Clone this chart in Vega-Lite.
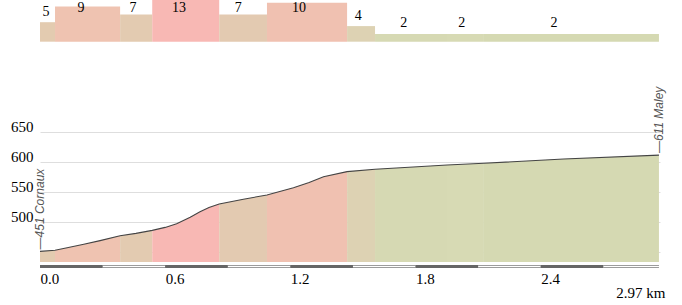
{
  "$schema": "https://vega.github.io/schema/vega-lite/v6.json",
  "width": 620,
  "height": 268,
  "autosize": {"type": "none"},
  "padding": {"left": 40, "top": 0, "right": 22, "bottom": 37},
  "background": "white",
  "config": {
    "view": {"stroke": null},
    "axisX": {
      "grid": false, "ticks": false, "tickSize": 0, "domain": false,
      "labelAlign": "left", "labelBaseline": "top", "labelPadding": 3,
      "labelFont": "Liberation Serif", "labelFontSize": 15, "labelColor": "#000",
      "labelFlush": false, "labelBound": false, "labelOverlap": false,
      "titleFont": "Liberation Serif", "titleFontSize": 15,
      "titleFontWeight": "normal", "titleColor": "#000", "titleAlign": "right",
      "titleBaseline": "alphabetic", "titleAnchor": "end", "titleX": 625, "titleY": 29
    },
    "axisY": {
      "grid": true, "gridColor": "#000", "gridOpacity": 0.13,
      "ticks": false, "tickSize": 0, "domain": false,
      "labelFont": "Liberation Serif", "labelFontSize": 15, "labelColor": "#000",
      "labelBaseline": "alphabetic", "labelAlign": "right", "labelPadding": 7,
      "zindex": 1
    }
  },
  "datasets": {
    "profile": [
      {"d": 0, "e": 451, "seg": 1},
      {"d": 0.072, "e": 453, "seg": 1},
      {"d": 0.072, "e": 453, "seg": 2},
      {"d": 0.13, "e": 457, "seg": 2},
      {"d": 0.21, "e": 463, "seg": 2},
      {"d": 0.288, "e": 469, "seg": 2},
      {"d": 0.384, "e": 477, "seg": 2},
      {"d": 0.384, "e": 477, "seg": 3},
      {"d": 0.46, "e": 481, "seg": 3},
      {"d": 0.538, "e": 486, "seg": 3},
      {"d": 0.538, "e": 486, "seg": 4},
      {"d": 0.6, "e": 491, "seg": 4},
      {"d": 0.655, "e": 497, "seg": 4},
      {"d": 0.72, "e": 508, "seg": 4},
      {"d": 0.767, "e": 517, "seg": 4},
      {"d": 0.81, "e": 524, "seg": 4},
      {"d": 0.859, "e": 530, "seg": 4},
      {"d": 0.859, "e": 530, "seg": 5},
      {"d": 0.975, "e": 538, "seg": 5},
      {"d": 1.088, "e": 545, "seg": 5},
      {"d": 1.088, "e": 545, "seg": 6},
      {"d": 1.215, "e": 557, "seg": 6},
      {"d": 1.29, "e": 566, "seg": 6},
      {"d": 1.359, "e": 575.5, "seg": 6},
      {"d": 1.472, "e": 584, "seg": 6},
      {"d": 1.472, "e": 584, "seg": 7},
      {"d": 1.606, "e": 588, "seg": 7},
      {"d": 1.606, "e": 588, "seg": 8},
      {"d": 1.728, "e": 590.5, "seg": 8},
      {"d": 1.951, "e": 595, "seg": 8},
      {"d": 1.951, "e": 595, "seg": 9},
      {"d": 2.128, "e": 598, "seg": 9},
      {"d": 2.128, "e": 598, "seg": 10},
      {"d": 2.51, "e": 605, "seg": 10},
      {"d": 2.967, "e": 611.5, "seg": 10}
    ],
    "segments": [
      {"seg": 1, "start": 0, "end": 0.072, "grade": 5},
      {"seg": 2, "start": 0.072, "end": 0.384, "grade": 9},
      {"seg": 3, "start": 0.384, "end": 0.538, "grade": 7},
      {"seg": 4, "start": 0.538, "end": 0.859, "grade": 13},
      {"seg": 5, "start": 0.859, "end": 1.088, "grade": 7},
      {"seg": 6, "start": 1.088, "end": 1.472, "grade": 10},
      {"seg": 7, "start": 1.472, "end": 1.606, "grade": 4},
      {"seg": 8, "start": 1.606, "end": 1.951, "grade": 2},
      {"seg": 9, "start": 1.951, "end": 2.128, "grade": 2},
      {"seg": 10, "start": 2.128, "end": 2.967, "grade": 2}
    ],
    "scalebar": [
      {"from": 0, "to": 0.3, "shade": "dark"},
      {"from": 0.3, "to": 0.6, "shade": "light"},
      {"from": 0.6, "to": 0.9, "shade": "dark"},
      {"from": 0.9, "to": 1.2, "shade": "light"},
      {"from": 1.2, "to": 1.5, "shade": "dark"},
      {"from": 1.5, "to": 1.8, "shade": "light"},
      {"from": 1.8, "to": 2.1, "shade": "dark"},
      {"from": 2.1, "to": 2.4, "shade": "light"},
      {"from": 2.4, "to": 2.7, "shade": "dark"},
      {"from": 2.7, "to": 2.967, "shade": "light"}
    ],
    "places": [
      {"d": 0, "e": 451, "name": "—451 Cornaux"},
      {"d": 2.967, "e": 611.5, "name": "—611 Maley"}
    ]
  },
  "layer": [
    {
      "layer": [
        {
          "data": {"name": "profile"},
          "mark": {"type": "area", "interpolate": "linear"},
          "encoding": {
            "x": {
              "field": "d", "type": "quantitative",
              "scale": {"domain": [0, 2.972], "nice": false, "zero": false},
              "axis": {"values": [0, 0.6, 1.2, 1.8, 2.4], "format": ".1f"},
              "title": "2.97 km"
            },
            "y": {
              "field": "e", "type": "quantitative", "stack": null,
              "scale": {"domain": [423.333, 870], "nice": false, "zero": false},
              "axis": {"values": [450, 500, 550, 600, 650], "labelExpr": "datum.value >= 500 ? datum.label : ''"},
              "title": null
            },
            "y2": {"datum": 433.333},
            "color": {
              "field": "seg", "type": "nominal",
              "scale": {
                "domain": [1, 2, 3, 4, 5, 6, 7, 8, 9, 10],
                "range": ["#e3cbb0", "#efc3b1", "#e3cbb1", "#f8b8b4", "#e3cab1", "#f0c1b1", "#ddd2b3", "#d6d9b3", "#d7dab4", "#d5d9b2"]
              },
              "legend": null
            }
          }
        },
        {
          "data": {"name": "profile"},
          "mark": {"type": "line", "color": "#444444", "strokeWidth": 1.1},
          "encoding": {
            "x": {"field": "d", "type": "quantitative", "axis": {"values": [0, 0.6, 1.2, 1.8, 2.4], "format": ".1f"}, "title": "2.97 km"},
            "y": {"field": "e", "type": "quantitative", "axis": {"values": [450, 500, 550, 600, 650], "labelExpr": "datum.value >= 500 ? datum.label : ''"}, "title": null}
          }
        },
        {
          "data": {"name": "scalebar"},
          "mark": {"type": "rect", "color": "#9c9c9c"},
          "encoding": {
            "x": {"field": "from", "type": "quantitative", "axis": {"values": [0, 0.6, 1.2, 1.8, 2.4], "format": ".1f"}, "title": "2.97 km"},
            "x2": {"field": "to"},
            "y": {"datum": 428.333, "type": "quantitative", "axis": {"values": [450, 500, 550, 600, 650], "labelExpr": "datum.value >= 500 ? datum.label : ''"}, "title": null},
            "y2": {"datum": 423.333}
          }
        },
        {
          "data": {"name": "scalebar"},
          "transform": [{"filter": "datum.shade == 'light'"}],
          "mark": {"type": "rect", "color": "#ffffff"},
          "encoding": {
            "x": {"field": "from", "type": "quantitative", "axis": {"values": [0, 0.6, 1.2, 1.8, 2.4], "format": ".1f"}, "title": "2.97 km"},
            "x2": {"field": "to"},
            "y": {"datum": 426.7, "type": "quantitative", "axis": {"values": [450, 500, 550, 600, 650], "labelExpr": "datum.value >= 500 ? datum.label : ''"}, "title": null},
            "y2": {"datum": 424.8}
          }
        },
        {
          "data": {"name": "scalebar"},
          "transform": [{"filter": "datum.shade == 'dark'"}],
          "mark": {"type": "rect", "color": "#666666"},
          "encoding": {
            "x": {"field": "from", "type": "quantitative", "axis": {"values": [0, 0.6, 1.2, 1.8, 2.4], "format": ".1f"}, "title": "2.97 km"},
            "x2": {"field": "to"},
            "y": {"datum": 428.333, "type": "quantitative", "axis": {"values": [450, 500, 550, 600, 650], "labelExpr": "datum.value >= 500 ? datum.label : ''"}, "title": null},
            "y2": {"datum": 423.333}
          }
        },
        {
          "data": {"name": "places"},
          "mark": {"type": "text", "angle": 270, "align": "left", "baseline": "middle", "dx": 2, "font": "Liberation Sans", "fontStyle": "italic", "fontSize": 12, "color": "#555555"},
          "encoding": {
            "x": {"field": "d", "type": "quantitative", "axis": {"values": [0, 0.6, 1.2, 1.8, 2.4], "format": ".1f"}, "title": "2.97 km"},
            "y": {"field": "e", "type": "quantitative", "axis": {"values": [450, 500, 550, 600, 650], "labelExpr": "datum.value >= 500 ? datum.label : ''"}, "title": null},
            "text": {"field": "name"}
          }
        }
      ]
    },
    {
      "data": {"name": "segments"},
      "mark": {"type": "rect", "clip": true},
      "encoding": {
        "x": {"field": "start", "type": "quantitative", "axis": {"values": [0, 0.6, 1.2, 1.8, 2.4], "format": ".1f"}, "title": "2.97 km"},
        "x2": {"field": "end"},
        "y": {"field": "grade", "type": "quantitative", "scale": {"domain": [-58.03, 10.69], "nice": false, "zero": false}, "axis": null},
        "y2": {"datum": 0},
        "color": {"field": "seg", "type": "nominal", "legend": null}
      }
    },
    {
      "data": {"name": "segments"},
      "transform": [{"calculate": "datum.start + 0.4 * (datum.end - datum.start)", "as": "lx"}],
      "mark": {"type": "text", "baseline": "alphabetic", "dy": 12, "font": "Liberation Serif", "fontSize": 14, "color": "#000"},
      "encoding": {
        "x": {"field": "lx", "type": "quantitative", "axis": {"values": [0, 0.6, 1.2, 1.8, 2.4], "format": ".1f"}, "title": "2.97 km"},
        "y": {"field": "grade", "type": "quantitative", "scale": {"domain": [-62.77, 5.95], "clamp": true, "nice": false, "zero": false}, "axis": null},
        "text": {"field": "grade"}
      }
    }
  ],
  "resolve": {"scale": {"y": "independent"}}
}
